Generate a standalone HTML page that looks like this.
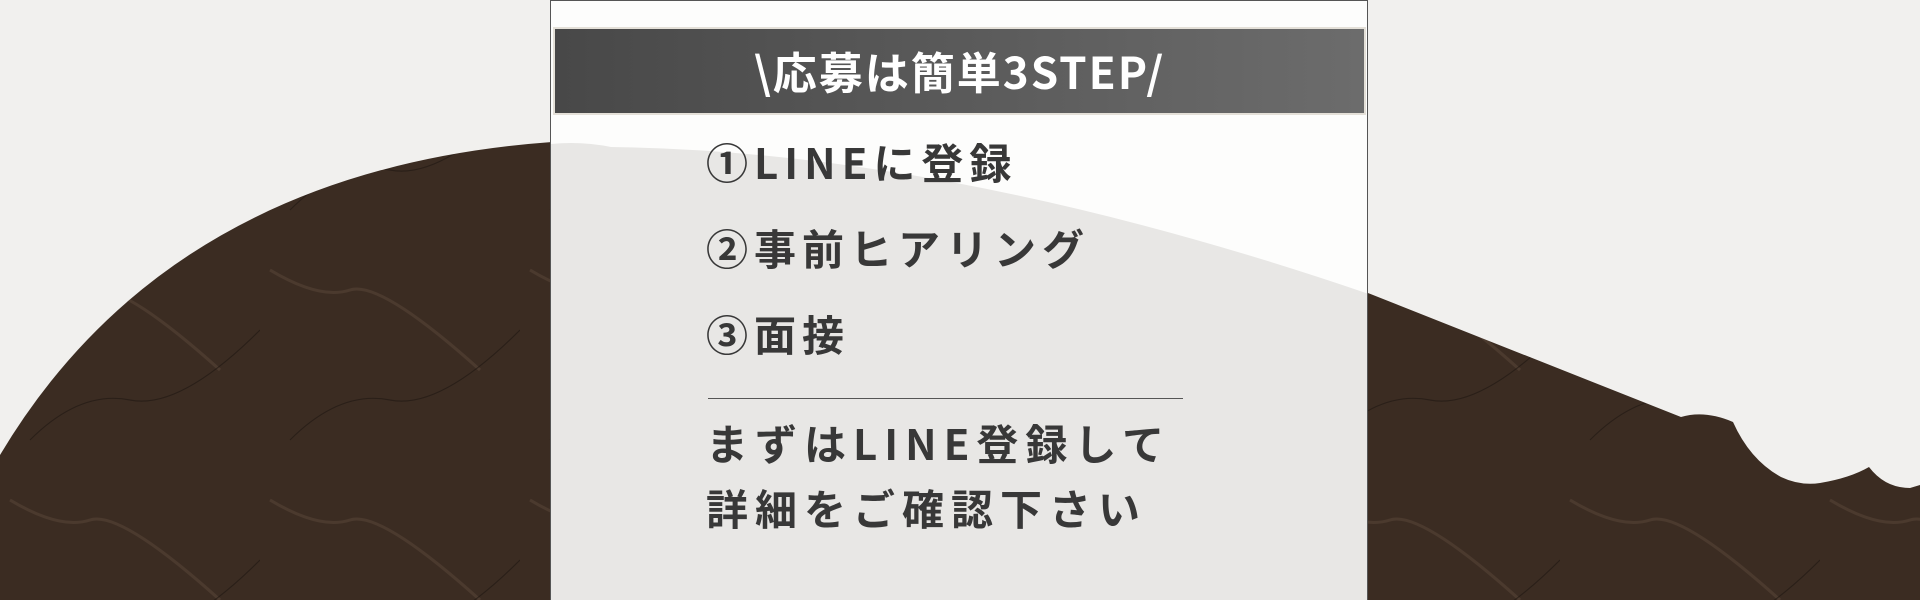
<!DOCTYPE html>
<html><head><meta charset="utf-8"><style>
html,body{margin:0;padding:0;}
body{width:1920px;height:600px;position:relative;overflow:hidden;background:#f1f0ee;font-family:"Liberation Sans","Noto Sans CJK JP",sans-serif;}
svg{position:absolute;left:0;top:0;}
.box{position:absolute;left:550px;top:0;width:818px;height:600px;border:1px solid #555;border-bottom:none;box-sizing:border-box;overflow:hidden;}
.hdr{position:absolute;left:553px;top:27px;width:813px;height:88px;background:linear-gradient(90deg,#484848,#6c6c6c);border:2px solid #e4e0d8;box-sizing:border-box;color:#fff;font-weight:700;font-size:44px;line-height:82px;text-align:center;letter-spacing:2px;font-family:"Noto Sans CJK JP",sans-serif;}
.t{position:absolute;left:706px;color:#383838;font-weight:700;font-size:42px;letter-spacing:6px;line-height:50px;white-space:nowrap;font-family:"Noto Sans CJK JP",sans-serif;}
.line{position:absolute;left:708px;top:398px;width:475px;height:1px;background:#555;}
</style></head><body>
<svg width="1920" height="600" viewBox="0 0 1920 600">
  <defs>
    <pattern id="m" width="260" height="230" patternUnits="userSpaceOnUse">
      <rect width="260" height="230" fill="#3b2c22"/>
      <path d="M10 40 Q60 70 90 60 T220 140" stroke="#6b5444" stroke-width="3" fill="none" opacity=".35"/>
      <path d="M30 210 Q80 160 130 170 T260 100" stroke="#1e1510" stroke-width="1.2" fill="none" opacity=".6"/>
    </pattern>
  </defs>
  <path d="M0 455 Q170 170 552 142 L552 600 L0 600 Z" fill="url(#m)"/>
  <path d="M1368 293 L1681 417 Q1705 410 1733 422 Q1750 460 1781 477 Q1800 486 1820 483 Q1850 478 1869 467 Q1885 488 1910 488 L1920 485 L1920 600 L1368 600 Z" fill="url(#m)"/>
</svg>
<div class="box">
  <svg width="818" height="600" viewBox="0 0 818 600" style="left:0;top:0">
    <rect width="818" height="600" fill="#fdfdfc"/>
    <path d="M0 143 Q30 140 60 146 Q400 150 818 293 L818 600 L0 600 Z" fill="#e8e7e5"/>
  </svg>
</div>
<div class="hdr">\応募は簡単3STEP/</div>
<div class="t" style="top:137px">①LINEに登録</div>
<div class="t" style="top:223px">②事前ヒアリング</div>
<div class="t" style="top:309px">③面接</div>
<div class="line"></div>
<div class="t" style="top:418px;letter-spacing:7px">まずはLINE登録して</div>
<div class="t" style="top:483px;letter-spacing:7px">詳細をご確認下さい</div>
</body></html>
